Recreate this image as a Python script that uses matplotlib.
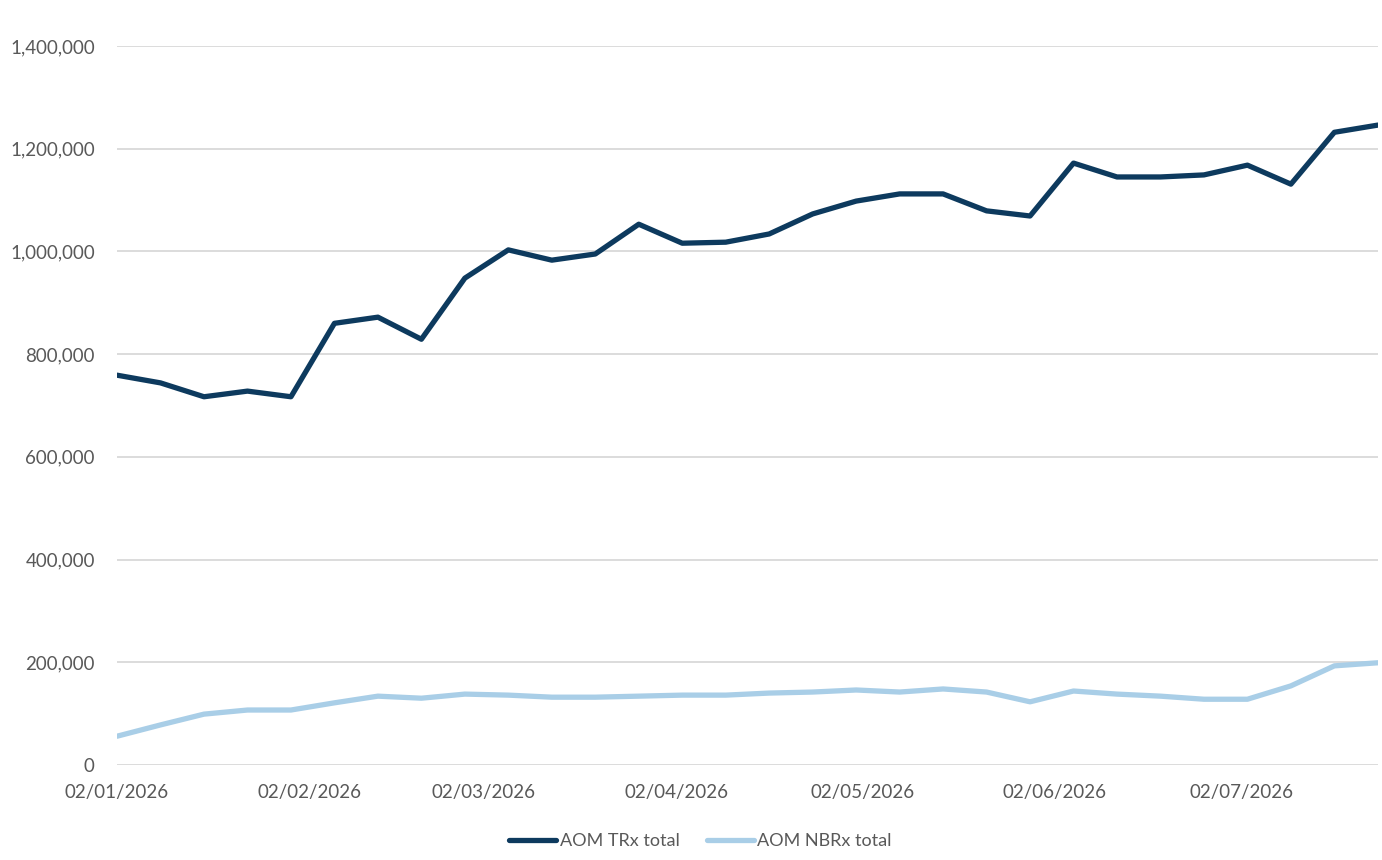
import matplotlib
matplotlib.use("Agg")
import matplotlib.pyplot as plt
import matplotlib.dates as mdates
import matplotlib.ticker as mticker
import pandas as pd

# weekly data, 02/01/2026 onwards
weeks = pd.date_range("2026-01-02", periods=30, freq="7D")
trx_total = [759000, 744000, 717000, 728000, 717000, 860000, 872000, 829000, 948000, 1003000,
             983000, 995000, 1053000, 1016000, 1018000, 1034000, 1073000, 1098000, 1112000, 1112000,
             1079000, 1069000, 1172000, 1145000, 1145000, 1149000, 1168000, 1131000, 1232000, 1246000]
nbrx_total = [56000, 78000, 99000, 107000, 107000, 121000, 134000, 130000, 138000, 136000,
              132000, 132000, 134000, 136000, 136000, 140000, 142000, 146000, 142000, 148000,
              142000, 123000, 144000, 138000, 134000, 128000, 128000, 154000, 193000, 199000]
# ticks on the 2nd of each month, Jan..Jul
month_ticks = pd.date_range("2026-01-01", periods=7, freq="MS") + pd.Timedelta(days=1)

plt.rcParams['font.family'] = ['Lato', 'DejaVu Sans']

fig = plt.figure(figsize=(13.82, 8.6), dpi=100)
ax = fig.add_axes([0.0847, 0.1105, 0.9123, 0.836])

ax.plot(weeks, trx_total, color='#0D3A5E', lw=3.8, label='AOM TRx total', solid_capstyle='round')
ax.plot(weeks, nbrx_total, color='#A9CEE7', lw=3.8, label='AOM NBRx total', solid_capstyle='round')

ax.yaxis.set_major_locator(mticker.MultipleLocator(200000))
ax.yaxis.set_major_formatter(mticker.FuncFormatter(lambda v, p: f"{int(v):,}"))
ax.set_xticks(month_ticks)
ax.xaxis.set_major_formatter(mdates.DateFormatter("%d/%m/%Y"))
ax.set_ylim(0, 1400000)
ax.set_xlim(weeks[0], weeks[-1])

ax.grid(axis='y', color='#D9D9D9', lw=1.3)
ax.set_axisbelow(True)
for s in ax.spines.values():
    s.set_visible(False)
ax.tick_params(axis='both', length=0, labelsize=13.5, labelcolor='#595959')
ax.tick_params(axis='y', pad=16)
ax.tick_params(axis='x', pad=14)

leg = fig.legend(loc='lower center', bbox_to_anchor=(0.507, -0.006), ncol=2, frameon=False,
                 fontsize=13, handlelength=2.6, handletextpad=0.2, columnspacing=1.5)
for t in leg.get_texts():
    t.set_color('#595959')

fig.savefig("out.png", dpi=100)
